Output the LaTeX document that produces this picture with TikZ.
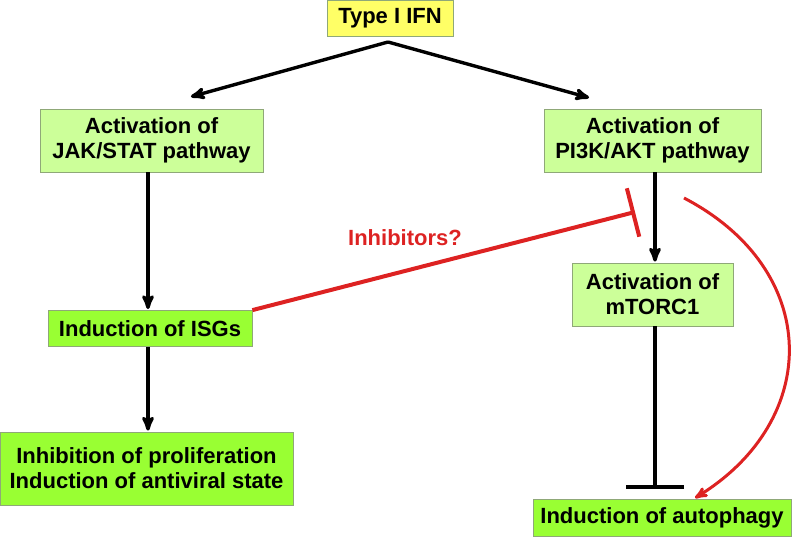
\documentclass[tikz,border=0pt]{standalone}
\usepackage{fontspec}
\setmainfont{Liberation Sans}
\usetikzlibrary{arrows,arrows.meta}

\definecolor{ifnyellow}{HTML}{FFFF66}
\definecolor{palegreen}{HTML}{CCFF99}
\definecolor{limegreen}{HTML}{99FF33}
\definecolor{boxline}{HTML}{8FA878}
\definecolor{inhred}{HTML}{DD2222}

\begin{document}
\begin{tikzpicture}[x=1pt,y=-1pt,>=stealth',thick,
  box/.style={rectangle,draw=boxline,line width=0.8pt,align=center,inner sep=0pt,
    font=\fontsize{22}{25}\selectfont\bfseries},
  pale/.style={box,fill=palegreen},
  lime/.style={box,fill=limegreen},
  act/.style={->,black,line width=3.4pt,shorten >=1pt},
  blunt/.style={-{Bar[width=58pt,line width=4pt]},black,line width=4pt},
  inh/.style={-{Bar[width=50pt,line width=4pt]},inhred,line width=4pt}]

  \useasboundingbox (0,0) rectangle (792,538);

  \node[box,fill=ifnyellow,minimum width=126pt,minimum height=36pt] (ifn) at (390,18) {Type I IFN};
  \node[pale,minimum width=223pt,minimum height=63pt] (jak) at (151.5,140.5) {Activation of\\JAK/STAT pathway};
  \node[pale,minimum width=217pt,minimum height=63pt] (pi3k) at (652.5,140.5) {Activation of\\PI3K/AKT pathway};
  \node[pale,minimum width=161pt,minimum height=63pt] (mtor) at (652.5,294.5) {Activation of\\mTORC1};
  \node[lime,minimum width=204pt,minimum height=36pt] (isg) at (150,328.5) {Induction of ISGs};
  \node[lime,minimum width=293pt,minimum height=73pt] (prolif) at (146.5,468.5) {Inhibition of proliferation\\Induction of antiviral state};
  \node[lime,minimum width=258pt,minimum height=37pt] (auto) at (662,517.5) {Induction of autophagy};

  \coordinate (split) at (388,42);
  \coordinate (block) at (635,212);
  \coordinate (bend) at (684,198);

  \draw[act] (split) -- (190,97);
  \draw[act] (split) -- (590,98);
  \draw[act] (148,0 |- jak.south) -- (148,0 |- isg.north);
  \draw[act] (148,0 |- isg.south) -- (148,0 |- prolif.north);
  \draw[act] (655,0 |- pi3k.south) -- (655,0 |- mtor.north);
  \draw[blunt] (655,0 |- mtor.south) -- (655,489);

  \draw[inh] (isg.north east) -- (block);
  \node[font=\fontsize{22}{26}\selectfont\bfseries,text=inhred] (inhlabel) at (405,238) {Inhibitors?};

  \draw[->,inhred,line width=3pt] (bend) .. controls (822,270) and (822,420) .. (695,498);
\end{tikzpicture}
\end{document}
